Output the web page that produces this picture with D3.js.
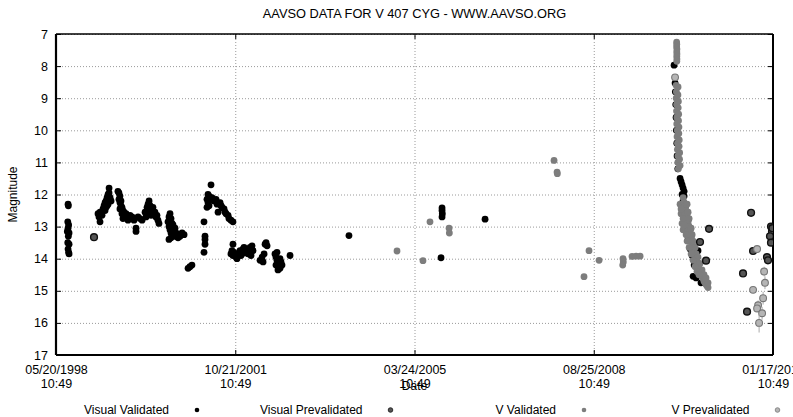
<!DOCTYPE html>
<html>
<head>
<meta charset="utf-8">
<script src="https://cdn.jsdelivr.net/npm/d3@7"></script>
<style>
  body { margin: 0; background: #fff; }
  svg { font-family: "Liberation Sans", Arial, Helvetica, sans-serif; }
  .grid line { stroke: #9a9a9a; stroke-dasharray: 1,2; }
  .grid path { display: none; }
  .axis path { display: none; }
  .axis line { stroke: #000; }
  .axis text { font-size: 12.5px; fill: #000; }
</style>
</head>
<body>
<script>
// dates are JD - 2450000, values are magnitudes
const xTickJD = [953.95, 2203.95, 3453.95, 4703.95, 5953.95];
const xTickDates = ['05/20/1998', '10/21/2001', '03/24/2005', '08/25/2008', '01/17/2012'];
const xTickTime = '10:49';
const magTicks = [7, 8, 9, 10, 11, 12, 13, 14, 15, 16, 17];

const seriesNames = ['Visual Validated', 'Visual Prevalidated', 'V Validated', 'V Prevalidated'];

const visualValidated = [
  [1038, 12.3], [1040, 12.35], [1036, 12.85], [1042, 12.95], [1038, 13.05], [1033, 13.15], [1045, 13.2],
  [1040, 13.3], [1036, 13.5], [1045, 13.55], [1038, 13.7], [1042, 13.8], [1045, 13.85],
  [1247, 12.6], [1254, 12.7], [1261, 12.85], [1261, 12.55], [1268, 12.6], [1275, 12.65], [1282, 12.45],
  [1289, 12.35], [1296, 12.5], [1296, 12.25], [1303, 12.2], [1310, 12.1], [1310, 12.35], [1317, 12.0],
  [1324, 11.95], [1324, 11.8], [1331, 12.1], [1317, 12.3], [1303, 12.4], [1338, 12.2],
  [1386, 11.9], [1393, 11.95], [1400, 12.05], [1393, 12.15], [1400, 12.25], [1407, 12.2], [1407, 12.35],
  [1414, 12.4], [1400, 12.45], [1421, 12.5], [1414, 12.6], [1428, 12.55], [1435, 12.65], [1421, 12.75],
  [1442, 12.6], [1449, 12.7], [1456, 12.8], [1470, 12.65], [1484, 12.7], [1512, 13.05], [1512, 13.15],
  [1526, 12.7], [1540, 12.75], [1554, 12.8], [1498, 12.8],
  [1575, 12.55], [1589, 12.4], [1596, 12.3], [1603, 12.2], [1610, 12.35], [1617, 12.45], [1610, 12.55],
  [1624, 12.5], [1630, 12.4], [1637, 12.6], [1644, 12.55], [1651, 12.7], [1658, 12.65], [1665, 12.8],
  [1672, 12.9], [1596, 12.6], [1617, 12.65], [1582, 12.7],
  [1735, 12.85], [1742, 12.7], [1749, 12.6], [1756, 12.75], [1763, 12.9], [1742, 13.0], [1749, 13.1],
  [1756, 13.2], [1763, 13.05], [1770, 12.95], [1756, 13.35], [1742, 13.4], [1777, 13.15], [1784, 13.3],
  [1791, 13.2], [1798, 13.3], [1805, 13.35], [1819, 13.3], [1833, 13.2], [1847, 13.25], [1770, 13.25],
  [1784, 13.05], [1875, 14.3], [1888, 14.25], [1902, 14.2],
  [1986, 13.8], [1993, 13.55], [1993, 13.4], [1993, 13.3], [1986, 12.85], [2035, 11.7], [2014, 12.0],
  [2021, 12.05], [2007, 12.15], [2014, 12.25], [2028, 12.1], [2021, 12.35], [2007, 12.4], [2042, 12.1],
  [2056, 12.2], [2070, 12.15], [2084, 12.55], [2077, 12.3], [2098, 12.25], [2105, 12.35], [2112, 12.4],
  [2126, 12.45], [2133, 12.55], [2140, 12.6], [2154, 12.65], [2160, 12.75], [2174, 12.8], [2188, 12.85],
  [2188, 13.55], [2181, 13.75], [2174, 13.85], [2188, 13.9], [2195, 13.8], [2202, 13.85], [2209, 13.95],
  [2216, 14.0], [2223, 13.9], [2230, 13.85], [2237, 13.75], [2244, 13.9], [2251, 13.85], [2258, 13.7],
  [2265, 13.65], [2272, 13.8], [2286, 13.7], [2293, 13.85], [2307, 13.65], [2321, 13.6], [2328, 13.75],
  [2314, 13.9],
  [2377, 14.05], [2391, 13.95], [2398, 14.1], [2405, 13.85], [2412, 13.55], [2419, 13.5], [2426, 13.6],
  [2481, 13.85], [2488, 13.95], [2495, 14.05], [2502, 14.15], [2509, 14.25], [2516, 14.3], [2488, 14.2],
  [2502, 14.35], [2523, 14.1], [2530, 14.2], [2495, 13.8], [2516, 14.0], [2586, 13.9],
  [2997, 13.28], [3639, 13.97], [3646, 12.42], [3646, 12.5], [3648, 12.6], [3646, 12.7], [3946, 12.77],
  [5264, 7.97], [5271, 8.53], [5273, 8.8], [5276, 9.2], [5278, 9.6], [5280, 10.0], [5283, 10.4],
  [5285, 10.8], [5290, 11.2], [5306, 11.5], [5313, 11.6], [5320, 11.7], [5327, 11.8], [5334, 11.9],
  [5320, 12.0], [5334, 12.05], [5327, 12.2], [5341, 12.4], [5334, 12.6], [5362, 12.8], [5341, 12.85],
  [5376, 13.1], [5348, 13.0], [5369, 13.25], [5383, 13.3], [5362, 13.4], [5431, 13.75], [5376, 13.7],
  [5390, 13.9], [5431, 14.3], [5404, 14.2], [5397, 14.55], [5418, 14.6], [5452, 14.75]
];

const visualPrevalidated = [
  [1219, 13.33], [5508, 13.07], [5445, 13.48], [5487, 14.06],
  [5801, 12.57], [5815, 13.76], [5745, 14.46], [5773, 15.65],
  [5940, 13.0], [5947, 13.15], [5933, 13.3], [5940, 13.5], [5950, 13.05], [5912, 13.95], [5919, 14.05]
];

const vValidated = [
  [3332, 13.76], [3513, 14.06], [3562, 12.85], [3695, 13.05], [3697, 13.2],
  [4427, 10.94], [4448, 11.3], [4450, 11.35],
  [4636, 14.56], [4671, 13.75], [4741, 14.05], [4908, 14.0], [4910, 14.1], [4906, 14.2],
  [4971, 13.93], [4999, 13.92], [5027, 13.92],
  [5282, 7.25], [5283, 7.32], [5282, 7.4], [5284, 7.47], [5283, 7.55], [5284, 7.62], [5283, 7.7],
  [5284, 7.78], [5283, 7.85],
  [5278, 8.6], [5280, 8.8], [5279, 9.0], [5282, 9.2], [5281, 9.4], [5284, 9.6], [5283, 9.8],
  [5286, 10.0], [5285, 10.2], [5288, 10.4], [5287, 10.6], [5291, 10.8], [5290, 11.0], [5294, 11.2],
  [5292, 8.65], [5291, 8.9], [5294, 9.1], [5293, 9.3], [5296, 9.5], [5295, 9.7], [5298, 9.9],
  [5297, 10.1], [5300, 10.3], [5299, 10.5], [5303, 10.7], [5302, 10.9], [5306, 11.1],
  [5306, 12.3], [5313, 12.6], [5320, 12.9], [5327, 13.1],
  [5327, 12.1], [5334, 12.25], [5341, 12.35], [5348, 12.5], [5341, 12.6], [5355, 12.7], [5348, 12.8],
  [5362, 12.9], [5369, 13.0], [5362, 13.1], [5376, 13.2], [5383, 13.3], [5376, 13.4], [5390, 13.5],
  [5397, 13.6], [5390, 13.7], [5404, 13.8], [5411, 13.9], [5418, 14.0], [5424, 14.1], [5431, 14.2],
  [5438, 14.3], [5445, 14.4], [5452, 14.45], [5459, 14.55], [5466, 14.62], [5473, 14.7], [5480, 14.75],
  [5487, 14.8], [5494, 14.85], [5501, 14.9],
  [5355, 12.3], [5362, 12.55], [5369, 12.75], [5383, 13.05], [5390, 13.25], [5397, 13.45], [5411, 13.65],
  [5418, 13.85], [5431, 13.95], [5445, 14.15], [5459, 14.35], [5473, 14.5], [5487, 14.6], [5501, 14.75],
  [5313, 12.45], [5327, 12.75], [5334, 12.95], [5348, 13.25], [5355, 13.45], [5369, 13.65], [5383, 13.85],
  [5397, 14.05], [5411, 14.25], [5424, 14.4], [5438, 14.5]
];

// [jd, mag, error]
const vPrevalidated = [
  [5271, 8.35, 0.05],
  [5843, 13.7, 0.1], [5892, 14.4, 0.15], [5898, 14.75, 0.2], [5815, 14.97, 0.1], [5885, 15.23, 0.2],
  [5850, 15.45, 0.15], [5843, 15.55, 0.1], [5878, 15.7, 0.2], [5857, 16.0, 0.3]
];

const width = 793;
const height = 417;
const margin = { top: 34, right: 20, bottom: 62, left: 56 };
const innerWidth = width - margin.left - margin.right;
const innerHeight = height - margin.top - margin.bottom;

const svg = d3.select('body').append('svg')
  .attr('width', width)
  .attr('height', height);

const x = d3.scaleLinear().domain([xTickJD[0], xTickJD[xTickJD.length - 1]]).range([0, innerWidth]);
const y = d3.scaleLinear().domain([7, 17]).range([0, innerHeight]);

svg.append('defs').append('clipPath').attr('id', 'plot-clip')
  .append('rect').attr('width', innerWidth).attr('height', innerHeight);

const g = svg.append('g').attr('transform', `translate(${margin.left}, ${margin.top})`);

// dotted grid
g.append('g').attr('class', 'grid')
  .call(d3.axisLeft(y).tickValues(magTicks).tickSize(-innerWidth).tickFormat(''));
g.append('g').attr('class', 'grid')
  .attr('transform', `translate(0, ${innerHeight})`)
  .call(d3.axisBottom(x).tickValues(xTickJD).tickSize(-innerHeight).tickFormat(''));

// axes with inward ticks
g.append('g').attr('class', 'axis')
  .call(d3.axisLeft(y).tickValues(magTicks).tickSizeInner(-5).tickSizeOuter(0).tickPadding(8));
g.append('g').attr('class', 'axis')
  .attr('transform', `translate(${innerWidth}, 0)`)
  .call(d3.axisRight(y).tickValues(magTicks).tickSizeInner(-5).tickSizeOuter(0).tickFormat(''));
g.append('g').attr('class', 'axis')
  .call(d3.axisTop(x).tickValues(xTickJD).tickSizeInner(-5).tickSizeOuter(0).tickFormat(''));

const xAxis = g.append('g').attr('class', 'axis')
  .attr('transform', `translate(0, ${innerHeight})`)
  .call(d3.axisBottom(x).tickValues(xTickJD).tickSizeInner(-5).tickSizeOuter(0).tickPadding(10)
    .tickFormat((d, i) => xTickDates[i]));
xAxis.selectAll('.tick text')
  .append('tspan').attr('x', 0).attr('dy', '1.1em').text(xTickTime);

// frame
g.append('line').attr('x1', 0).attr('x2', 0).attr('y1', 0).attr('y2', innerHeight)
  .attr('stroke', '#000').attr('stroke-width', 2.2);
g.append('line').attr('x1', 0).attr('x2', innerWidth).attr('y1', innerHeight).attr('y2', innerHeight)
  .attr('stroke', '#000').attr('stroke-width', 2.2);
g.append('line').attr('x1', 0).attr('x2', innerWidth).attr('y1', 0).attr('y2', 0)
  .attr('stroke', '#000').attr('stroke-width', 1.4);
g.append('line').attr('x1', innerWidth).attr('x2', innerWidth).attr('y1', 0).attr('y2', innerHeight)
  .attr('stroke', '#000').attr('stroke-width', 2);

// data
const pts = g.append('g').attr('clip-path', 'url(#plot-clip)');
const r = 3.4;

pts.append('g').selectAll('circle')
  .data(visualValidated)
  .join('circle')
    .attr('cx', d => x(d[0]))
    .attr('cy', d => y(d[1]))
    .attr('r', r)
    .attr('fill', '#000');

pts.append('g').selectAll('circle')
  .data(vValidated)
  .join('circle')
    .attr('cx', d => x(d[0]))
    .attr('cy', d => y(d[1]))
    .attr('r', r)
    .attr('fill', '#7d7d7d');

pts.append('g').selectAll('circle')
  .data(visualPrevalidated)
  .join('circle')
    .attr('cx', d => x(d[0]))
    .attr('cy', d => y(d[1]))
    .attr('r', r)
    .attr('fill', '#555')
    .attr('stroke', '#111')
    .attr('stroke-width', 1.4);

const vp = pts.append('g').selectAll('g')
  .data(vPrevalidated)
  .join('g');
vp.append('line')
  .attr('x1', d => x(d[0])).attr('x2', d => x(d[0]))
  .attr('y1', d => y(d[1] - d[2])).attr('y2', d => y(d[1] + d[2]))
  .attr('stroke', '#aaa');
vp.append('circle')
  .attr('cx', d => x(d[0]))
  .attr('cy', d => y(d[1]))
  .attr('r', r)
  .attr('fill', '#b5b5b5')
  .attr('stroke', '#777')
  .attr('stroke-width', 1.1);

// titles
svg.append('text')
  .attr('x', margin.left + innerWidth / 2)
  .attr('y', 18)
  .attr('text-anchor', 'middle')
  .attr('font-size', 12.8)
  .text('AAVSO DATA FOR V 407 CYG - WWW.AAVSO.ORG');

svg.append('text')
  .attr('transform', `translate(17, ${margin.top + innerHeight / 2}) rotate(-90)`)
  .attr('text-anchor', 'middle')
  .attr('font-size', 12)
  .text('Magnitude');

svg.append('text')
  .attr('x', margin.left + innerWidth / 2)
  .attr('y', 390)
  .attr('text-anchor', 'middle')
  .attr('font-size', 12)
  .text('Date');

// legend
const legendStyles = [
  { fill: '#000', stroke: 'none' },
  { fill: '#555', stroke: '#111' },
  { fill: '#7d7d7d', stroke: 'none' },
  { fill: '#b5b5b5', stroke: '#777' }
];
const legend = svg.append('g').selectAll('g')
  .data(seriesNames)
  .join('g')
    .attr('transform', (d, i) => `translate(${197 + i * 193.5}, 410)`);
legend.append('text')
  .attr('x', -28)
  .attr('y', 4)
  .attr('text-anchor', 'end')
  .attr('font-size', 12)
  .text(d => d);
legend.append('circle')
  .attr('r', 2.3)
  .attr('fill', (d, i) => legendStyles[i].fill)
  .attr('stroke', (d, i) => legendStyles[i].stroke)
  .attr('stroke-width', 0.8);
</script>
</body>
</html>
